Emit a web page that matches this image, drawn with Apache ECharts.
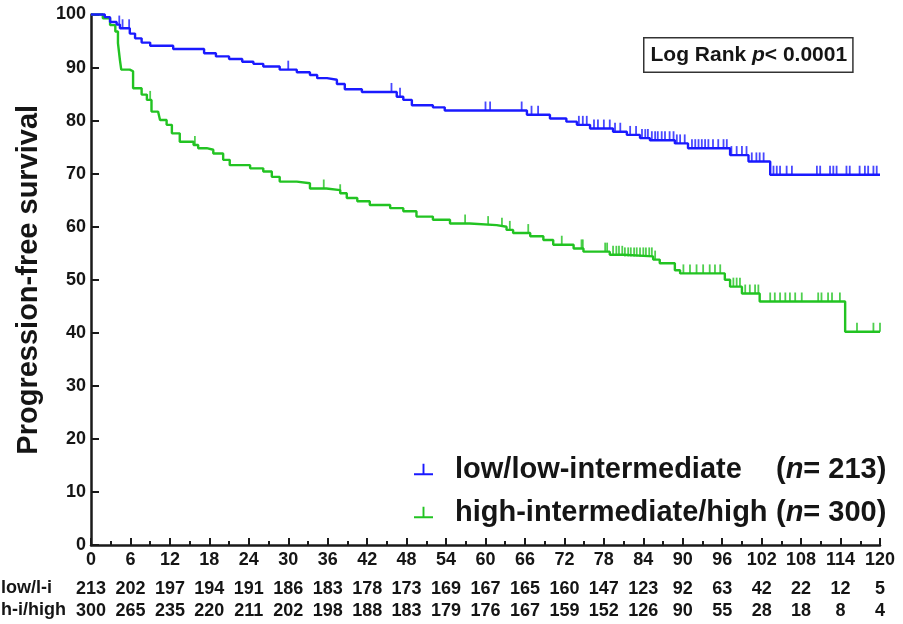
<!DOCTYPE html>
<html>
<head>
<meta charset="utf-8">
<script src="https://cdn.jsdelivr.net/npm/echarts@6/dist/echarts.min.js"></script>
<style>
  html, body { margin: 0; padding: 0; background: #fff; }
  #chart { width: 903px; height: 624px; }
</style>
</head>
<body>
<div id="chart"></div>
<script>
// Kaplan-Meier progression-free survival by risk group (months on x, % on y)

// low/low-intermediate: [month, survival after event]
const lowEvents = [
  [0, 100], [2.1, 99.5], [2.9, 98.6], [3.9, 98.1], [4.4, 97.4], [5.9, 96.4],
  [6.7, 95.5], [7.7, 94.7], [9, 94.1], [12.5, 93.5], [17.2, 92.7], [19, 92.1],
  [21, 91.6], [23, 91.1], [24.7, 90.7], [26.2, 90.2], [28.7, 89.6], [31.3, 89.1],
  [33.3, 88.6], [34.4, 88.0], [35.9, 87.7], [37.4, 86.9], [38.6, 85.9], [41.2, 85.4],
  [46.5, 84.5], [47.5, 83.9], [48.8, 82.9], [52, 82.5], [53.8, 81.9], [66.3, 81.1],
  [69.8, 80.4], [72.3, 79.8], [73.9, 79.2], [75.9, 78.5], [79.4, 77.9], [81.5, 77.3],
  [83.5, 76.7], [85, 76.3], [88.8, 75.7], [90.8, 74.8], [97.2, 73.5], [100, 72.3],
  [103.3, 69.8]
];
const lowCensored = [
  4.3, 4.8, 5.8, 30, 45.7, 47, 60, 60.7, 65.5, 67, 68,
  74.2, 74.8, 75.4, 76.5, 77.1, 78.0, 78.9, 79.7, 80.5, 82.0, 82.9, 83.8, 84.3, 84.7,
  85.3, 85.8, 86.2, 86.8, 87.3, 88.0, 88.6, 89.1, 89.6, 90.3, 91.4, 91.9, 92.4, 92.9,
  93.4, 93.9, 94.6, 95.4, 96.2, 96.7, 97.4, 98.2, 99.0, 99.7, 100.5, 101.2, 101.7,
  102.3, 103.8, 104.3, 104.8, 105.8, 106.6, 110.4, 110.9, 112.4, 112.9, 113.4,
  114.9, 115.4, 116.9, 117.7, 118.2, 119.0, 119.5
];

// high-intermediate/high
const highEvents = [
  [0, 100], [1.8, 99.3], [2.9, 98.0], [3.7, 96.8], [4.1, 94.6], [4.4, 91.4],
  [4.6, 89.6], [5.9, 89.3], [6.4, 86.1], [7.7, 84.9], [8.5, 83.9], [9.2, 81.7],
  [10.2, 81.4], [10.5, 80.1], [11.5, 79.2], [12.3, 77.6], [13.5, 76.0], [15.6, 75.4],
  [16.3, 74.8], [17.6, 74.5], [18.6, 73.8], [20.1, 72.6], [21.1, 71.6], [24.2, 71.0],
  [26.2, 70.4], [27.5, 69.4], [28.7, 68.5], [31.3, 68.2], [33.3, 67.2], [35.8, 66.9],
  [37.9, 66.3], [38.9, 65.4], [40.5, 64.8], [42.4, 64.1], [45.5, 63.5], [47.5, 62.9],
  [49.5, 61.9], [52, 61.3], [54.6, 60.6], [57.6, 60.3], [61.7, 60.0], [63.2, 59.4],
  [64.2, 58.8], [66.8, 58.2], [68.8, 57.5], [70.3, 56.6], [73.4, 55.9], [74.9, 55.3],
  [78.9, 54.7], [81, 54.4], [85.5, 53.8], [86.5, 53.1], [88.8, 51.8], [89.6, 51.2],
  [96.4, 50.0], [97.2, 48.7], [99, 47.4], [101.7, 45.9], [114.7, 40.2]
];
const highCensored = [
  9.0, 15.8, 35.4, 37.9, 56.9, 60.4, 62.5, 63.7, 66.5, 71.6, 74.6, 74.8, 78.2, 78.5,
  79.4, 79.9, 80.3, 80.8, 81.2, 81.7, 82.1, 82.6, 83.0, 83.5, 84.0, 84.4, 84.9, 85.3, 85.8,
  90.1, 91.1, 92.1, 93.1, 94.1, 94.9, 95.7, 97.7, 98.2, 98.7, 99.5, 100.2, 101.0, 101.5,
  103.3, 104.0, 104.8, 105.6, 106.3, 107.1, 108.1, 110.6, 111.1, 112.1, 112.7, 113.9,
  116.5, 119.0, 120
];

// numbers at risk every 6 months
const riskMonths = [0, 6, 12, 18, 24, 30, 36, 42, 48, 54, 60, 66, 72, 78, 84, 90, 96, 102, 108, 114, 120];
const lowRisk = [213, 202, 197, 194, 191, 186, 183, 178, 173, 169, 167, 165, 160, 147, 123, 92, 63, 42, 22, 12, 5];
const highRisk = [300, 265, 235, 220, 211, 202, 198, 188, 183, 179, 176, 167, 159, 152, 126, 90, 55, 28, 18, 8, 4];

const seriesNames = ['low/low-intermediate', 'high-intermediate/high'];
const groupSizes = [213, 300];
const colors = ['#1a1aff', '#22c322'];
const followUpEnd = 120;

// survival value of a step curve at time t
function survivalAt(events, t) {
  let s = 100;
  for (const [m, v] of events) { if (m <= t) s = v; else break; }
  return s;
}
function stepData(events) {
  const d = events.map(e => e.slice());
  d.push([followUpEnd, events[events.length - 1][1]]);
  return d;
}
function censorData(events, times) {
  return times.map(t => [t, survivalAt(events, t)]);
}

const FONT = '"Liberation Sans", Arial, sans-serif';
const TXT = '#151515';

const chart = echarts.init(document.getElementById('chart'), null, { renderer: 'canvas' });

function riskAxis(values, offset) {
  return {
    type: 'value', gridIndex: 0, position: 'bottom', offset: offset,
    min: 0, max: followUpEnd, interval: 6,
    axisLine: { show: false }, axisTick: { show: false }, splitLine: { show: false },
    axisLabel: {
      margin: 6, color: TXT, fontFamily: FONT, fontWeight: 'bold', fontSize: 18,
      formatter: v => { const i = riskMonths.indexOf(v); return i >= 0 ? String(values[i]) : ''; }
    }
  };
}

const censorStyle = (color) => ({
  type: 'scatter', silent: true, clip: false,
  symbol: 'rect', symbolSize: [1.8, 9], symbolOffset: [0, '-50%'],
  itemStyle: { color: color }
});

chart.setOption({
  animation: false,
  backgroundColor: '#fff',
  grid: { left: 91, right: 23, top: 14.5, bottom: 79, containLabel: false },
  xAxis: [
    {
      type: 'value', min: 0, max: followUpEnd, interval: 6,
      axisLine: { show: true, onZero: false, lineStyle: { color: '#1a1a1a', width: 2.5 } },
      axisTick: { show: true, inside: true, length: 7, lineStyle: { color: '#1a1a1a', width: 2 } },
      minorTick: { show: true, splitNumber: 2, length: 4, lineStyle: { color: '#1a1a1a', width: 2 } },
      splitLine: { show: false },
      axisLabel: { margin: 6, color: TXT, fontFamily: FONT, fontWeight: 'bold', fontSize: 18 }
    },
    riskAxis(lowRisk, 29),
    riskAxis(highRisk, 51)
  ],
  yAxis: {
    type: 'value', min: 0, max: 100, interval: 10,
    name: 'Progression-free survival', nameLocation: 'middle', nameGap: 48,
    nameTextStyle: { color: TXT, fontFamily: FONT, fontWeight: 'bold', fontSize: 29 },
    axisLine: { show: true, onZero: false, lineStyle: { color: '#1a1a1a', width: 2.5 } },
    axisTick: { show: true, inside: true, length: 8, lineStyle: { color: '#1a1a1a', width: 2 } },
    splitLine: { show: false },
    axisLabel: { margin: 5, color: TXT, fontFamily: FONT, fontWeight: 'bold', fontSize: 18 }
  },
  legend: {
    data: seriesNames,
    orient: 'vertical', left: 409, top: 450, itemGap: 14,
    itemWidth: 19, itemHeight: 12,
    icon: 'path://M0,10h20v2h-20z M9,0h2v10h-2z',
    selectedMode: false,
    textStyle: {
      color: TXT, fontFamily: FONT, fontWeight: 'bold', fontSize: 29, padding: [0, 0, 0, 17],
      rich: {
        a: { width: 321, color: TXT, fontFamily: FONT, fontWeight: 'bold', fontSize: 29 },
        b: { color: TXT, fontFamily: FONT, fontWeight: 'bold', fontSize: 29 },
        i: { color: TXT, fontFamily: FONT, fontWeight: 'bold', fontStyle: 'italic', fontSize: 29 }
      }
    },
    formatter: name => {
      const k = seriesNames.indexOf(name);
      return '{a|' + name + '}{b|(}{i|n}{b|= ' + groupSizes[k] + ')}';
    }
  },
  graphic: [
    {
      type: 'text', left: 643, top: 37,
      style: {
        text: '{a|Log Rank }{i|p}{a|< 0.0001}',
        rich: {
          a: { fontFamily: FONT, fontWeight: 'bold', fontSize: 21, fill: TXT },
          i: { fontFamily: FONT, fontWeight: 'bold', fontStyle: 'italic', fontSize: 21, fill: TXT }
        },
        padding: [6, 5, 6, 6],
        borderColor: '#333', borderWidth: 1.5, backgroundColor: '#fff'
      }
    },
    { type: 'text', left: 1, top: 579, style: { text: 'low/l-i', font: 'bold 18px ' + FONT, fill: TXT } },
    { type: 'text', left: 1, top: 601, style: { text: 'h-i/high', font: 'bold 18px ' + FONT, fill: TXT } }
  ],
  series: [
    {
      name: seriesNames[0], type: 'line', step: 'end', showSymbol: false, clip: false,
      data: stepData(lowEvents), color: colors[0],
      lineStyle: { width: 2.4, color: colors[0] }, z: 3
    },
    {
      name: seriesNames[1], type: 'line', step: 'end', showSymbol: false, clip: false,
      data: stepData(highEvents), color: colors[1],
      lineStyle: { width: 2.4, color: colors[1] }, z: 2
    },
    Object.assign({ name: 'low-censored', data: censorData(lowEvents, lowCensored), z: 3 }, censorStyle(colors[0])),
    Object.assign({ name: 'high-censored', data: censorData(highEvents, highCensored), z: 2 }, censorStyle(colors[1]))
  ]
});
</script>
</body>
</html>
